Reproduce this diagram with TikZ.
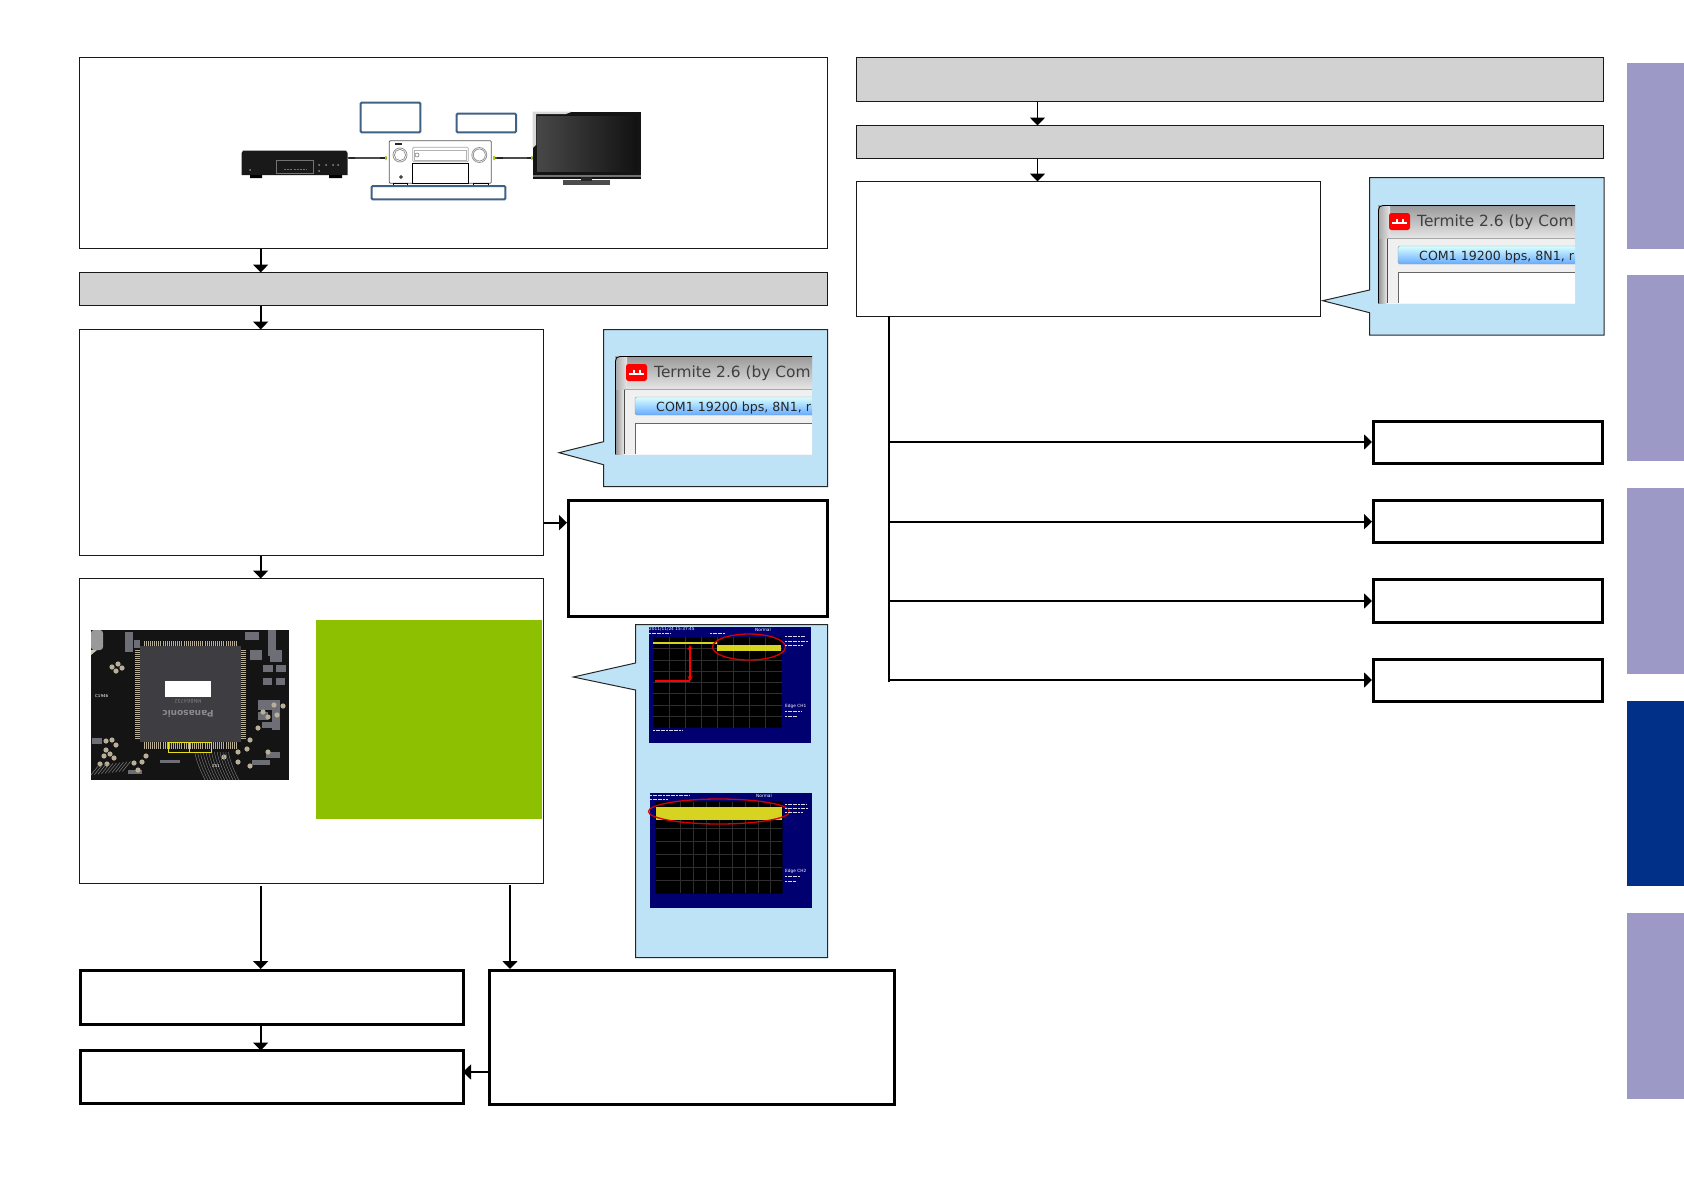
\documentclass[tikz,border=0pt]{standalone}
\usepackage{fontspec}
\setmainfont{DejaVu Sans}
\usetikzlibrary{arrows.meta,calc}
\definecolor{panel}{HTML}{BFE3F6}
\definecolor{grayfill}{HTML}{D2D2D2}
\definecolor{tablav}{HTML}{9D99C6}
\definecolor{tabblue}{HTML}{003087}
\definecolor{boxblue}{HTML}{3F6187}
\definecolor{leaf}{HTML}{8CC000}
\definecolor{navy}{HTML}{000070}
\definecolor{wave}{HTML}{D6D420}
\definecolor{padtan}{HTML}{B9AE98}
\definecolor{chipgray}{HTML}{3D3D42}
\definecolor{gridgray}{HTML}{2E2E2E}
\definecolor{silk}{HTML}{6E6E76}
\tikzset{
  thinbox/.style={draw=black!90,line width=1pt,fill=white},
  thickbox/.style={draw=black,line width=3pt,fill=white},
  graybox/.style={draw=black!90,line width=1pt,fill=grayfill},
  flowarrow/.style={draw=black,line width=1.7pt,-{Triangle[width=15pt,length=8pt]}},
  branch/.style={draw=black,line width=2pt},
  labelbox/.style={draw=boxblue,line width=2pt,rounded corners=1pt},
  callout/.style={draw=black!85,line width=1pt,fill=panel,line join=miter},
  tab/.style={fill=tablav},
  tabactive/.style={fill=tabblue},
  boxnode/.style={rectangle,inner sep=0pt,outer sep=0pt},
  scopegrid/.style={draw=gridgray,line width=.4pt}
}
% \bx{name}{style}{x1}{y1}{x2}{y2}
\newcommand{\bx}[6]{%
  \pgfmathsetmacro{\bw}{#5-#3}\pgfmathsetmacro{\bh}{#6-#4}%
  \pgfmathsetmacro{\cx}{(#3+#5)/2}\pgfmathsetmacro{\cy}{(#4+#6)/2}%
  \node[boxnode,#2,minimum width=\bw pt,minimum height=\bh pt] (#1) at (\cx,\cy) {};}
% Termite window, origin at top-left of the image (615,356), size 197x98
\newcommand{\termite}{%
  \begin{scope}
    \clip (0,0) rectangle (197,98);
    \shade[top color=white!60!gray,bottom color=white!92!gray] (0,0) rectangle (197,98);
    \shade[left color=black!45,right color=black!8] (0,0) rectangle (9,98);
    \shade[top color=black!40,bottom color=black!10] (0,0) rectangle (197,33);
    \shade[left color=black!35,right color=black!10] (0,0) rectangle (12,33);
    \fill[black!6] (9,33) rectangle (197,98);
    \draw[black!70,line width=.8pt] (9,33) -- (9,98);
    \draw[black!35,line width=.8pt] (9,33) -- (197,33);
    \draw[black,line width=.8pt] (.5,98) -- (.5,5) .. controls (.5,2) and (2,.5) .. (5,.5) -- (197,.5);
    \fill[white] (20,67) rectangle (197,98);
    \draw[black!60,line width=.9pt] (20,98) -- (20,67) -- (197,67);
    \shade[top color=cyan!15!white,bottom color=cyan!45!blue!60,draw=black!40,rounded corners=1.5pt] (20,41) rectangle (205,59);
    \fill[red,rounded corners=2.5pt] (11,8) rectangle (32,25);
    \draw[white,line width=1.2pt] (14,18) -- (29,18) (19,14) -- (19,18) (25,14) -- (25,18);
    \node[anchor=base west,inner sep=0pt,text=black!75,font=\fontsize{15.4}{15}\selectfont] (ttitle) at (39,21) {Termite 2.6 (by Com};
    \node[anchor=base west,inner sep=0pt,text=black!85,font=\fontsize{12.6}{13}\selectfont] (tcom) at (41,55) {COM1 19200 bps, 8N1, r};
  \end{scope}}
\begin{document}
\begin{tikzpicture}[x=1pt,y=-1pt]
\useasboundingbox (0,0) rectangle (1684,1191);
\fill[white] (0,0) rectangle (1684,1191);

% right tabs
\fill[tab] (1627,62.5) rectangle (1684,249);
\fill[tab] (1627,275) rectangle (1684,461);
\fill[tab] (1627,488) rectangle (1684,674);
\fill[tabactive] (1627,701) rectangle (1684,886);
\fill[tab] (1627,913) rectangle (1684,1099);

% left column boxes
\bx{setup}{thinbox}{79}{57}{827.5}{248.5}
\bx{gray1}{graybox}{79}{272.5}{827.5}{305.5}
\bx{step2}{thinbox}{79}{329.5}{543.5}{555.5}
\bx{step3}{thinbox}{79}{578.5}{543.5}{883.5}
\bx{nogood}{thickbox}{568}{500.5}{827}{616.5}
\bx{res1}{thickbox}{80.5}{970.5}{463}{1024.5}
\bx{res2}{thickbox}{80.5}{1050.5}{463}{1103.5}
\bx{res3}{thickbox}{489.5}{970.5}{894}{1104.5}

% right column boxes
\bx{gray2}{graybox}{856.5}{57.5}{1603.5}{101.5}
\bx{gray3}{graybox}{856.5}{125.5}{1603.5}{158.5}
\bx{step4}{thinbox}{856.5}{181.5}{1320.5}{316}
\bx{out1}{thickbox}{1373.5}{421.5}{1602.5}{463.5}
\bx{out2}{thickbox}{1373.5}{500.5}{1602.5}{542.5}
\bx{out3}{thickbox}{1373.5}{579.5}{1602.5}{622}
\bx{out4}{thickbox}{1373.5}{659.5}{1602.5}{701.5}

% connector guides
\coordinate (cA) at (260.7,0);
\coordinate (cC) at (1037.5,0);
\coordinate (cD) at (889,0);
\coordinate (r0) at (0,522.7);
\coordinate (r1) at (0,1072);
\coordinate (b1) at (0,442);
\coordinate (b2) at (0,521.7);
\coordinate (b3) at (0,601);
\coordinate (b4) at (0,680);
\coordinate (trunkEnd) at (889,682);
\coordinate (gapA) at (260.7,886);
\coordinate (gapB) at (510,885);

\draw[flowarrow] (setup.south -| cA) -- (gray1.north -| cA);
\draw[flowarrow] (gray1.south -| cA) -- (step2.north -| cA);
\draw[flowarrow] (step2.south -| cA) -- (step3.north -| cA);
\draw[flowarrow] (step2.east |- r0) -- ([xshift=-1pt]nogood.west |- r0);
\draw[flowarrow] ([yshift=0pt]gapA) -- ([yshift=1.5pt]res1.north -| gapA);
\draw[flowarrow] (gapB) -- ([yshift=1.5pt]res3.north -| gapB);
\draw[flowarrow] (res1.south -| cA) -- (res2.north -| cA);
\draw[flowarrow] (res3.west |- r1) -- (res2.east |- r1);
\draw[flowarrow] (gray2.south -| cC) -- (gray3.north -| cC);
\draw[flowarrow] (gray3.south -| cC) -- (step4.north -| cC);
\draw[branch] (step4.south -| cD) -- (trunkEnd);
\draw[flowarrow] (cD |- b1) -- ([xshift=-1.5pt]out1.west |- b1);
\draw[flowarrow] (cD |- b2) -- ([xshift=-1.5pt]out2.west |- b2);
\draw[flowarrow] (cD |- b3) -- ([xshift=-1.5pt]out3.west |- b3);
\draw[flowarrow] (cD |- b4) -- ([xshift=-1.5pt]out4.west |- b4);

% callouts
\draw[callout] (603.5,329.5) -- (827.5,329.5) -- (827.5,486.5) -- (603.5,486.5) -- (603.5,464.7) -- (559,452.7) -- (603.5,441.7) -- cycle;
\begin{scope}[shift={(615,356)}]\termite\end{scope}
\draw[callout] (1369.5,177.5) -- (1604,177.5) -- (1604,335) -- (1369.5,335) -- (1369.5,312.7) -- (1322.7,300.7) -- (1369.5,290) -- cycle;
\begin{scope}[shift={(1378,205)}]\termite\end{scope}
\draw[callout] (635.5,624.5) -- (827.5,624.5) -- (827.5,957.5) -- (635.5,957.5) -- (635.5,690) -- (573.3,677) -- (635.5,663) -- cycle;

% scope 1
\fill[navy] (648.5,627) rectangle (811,743);
\fill[black] (653,637) rectangle (781.5,727.5);
\draw[black!60!navy,line width=.6pt] (653,637) rectangle (781.5,727.5);
\foreach \gx in {669,685,701,717,733,749,765}
  \draw[scopegrid] (\gx,637) -- (\gx,727.5);
\foreach \gy in {648,660,671,682,693,705,716}
  \draw[scopegrid] (653,\gy) -- (781.5,\gy);
\fill[wave] (653,642.3) rectangle (717,644.3);
\fill[wave] (717,644.5) rectangle (781,651);
\draw[red!85!black,line width=1.3pt] (749,647) ellipse [x radius=36.5,y radius=13];
\draw[red,line width=1.5pt,{Stealth[length=5pt,width=5pt]}-{Stealth[length=5pt,width=5pt]}] (690,645) -- (690,681);
\draw[red,line width=2pt] (655,681) -- (690,681);
\node[anchor=west,inner sep=0pt,text=white,font=\fontsize{4.3}{4.3}\selectfont] (s1a) at (649,629.5) {2011/11/24 15:37:45};
\node[anchor=west,inner sep=0pt,text=white,font=\fontsize{4.3}{4.3}\selectfont] (s1b) at (755,629.5) {Normal};
\node[anchor=west,inner sep=0pt,text=white,font=\fontsize{4.3}{4.3}\selectfont] (s1c) at (785,706.5) {Edge CH1};
\foreach \ya/\xa/\xb in {636/785/805, 641/785/808, 645/785/803, 711/785/802, 716/785/797, 730/653/683, 633/649/670, 633/710/725}
  \draw[white!85!navy,line width=1pt,dash pattern=on 2pt off .6pt] (\xa,\ya) -- (\xb,\ya);

% scope 2
\fill[navy] (650,792.7) rectangle (812,908);
\fill[black] (655.7,801.7) rectangle (782,893.3);
\draw[black!60!navy,line width=.6pt] (655.7,801.7) rectangle (782,893.3);
\foreach \gx in {680,693,706,719,732,745,758,770}
  \draw[scopegrid] (\gx,801.7) -- (\gx,893.3);
\foreach \gy in {815,828,841,854,867,880}
  \draw[scopegrid] (655.7,\gy) -- (782,\gy);
\fill[wave] (655.7,806.5) rectangle (782,819.5);
\draw[red!85!black,line width=1.3pt] (719,811.5) ellipse [x radius=70.5,y radius=12.5];
\node[anchor=west,inner sep=0pt,text=white,font=\fontsize{4.3}{4.3}\selectfont] (s2b) at (756,795.5) {Normal};
\node[anchor=west,inner sep=0pt,text=white,font=\fontsize{4.3}{4.3}\selectfont] (s2c) at (785,871.5) {Edge CH2};
\foreach \ya/\xa/\xb in {795.5/650/690, 799.5/650/668, 804/785/806, 808/785/808, 812/785/803, 876/785/800, 881/785/796}
  \draw[white!85!navy,line width=1pt,dash pattern=on 2pt off .6pt] (\xa,\ya) -- (\xb,\ya);

% board photograph
\fill[black!92] (91,630) rectangle (289,779.5);
\begin{scope}
  \clip (91,630) rectangle (289,779.5);
  \fill[black!40,rounded corners=3pt] (91,630) rectangle (103,650);
  \fill[padtan!70] (91,650) -- (97,650) -- (91,655) -- cycle;
  \foreach \tx/\ty/\tl/\th in {125/632/8/20, 134/640/6/8, 245/632/14/8, 250/650/12/10, 268/630/8/26, 270/650/12/12, 263/665/10/7, 276/665/10/7, 263/678/9/7, 276/678/9/7, 258/700/16/10, 258/712/10/8, 272/700/8/30, 262/722/14/6, 92/738/10/6, 128/770/14/4, 160/760/20/3, 266/752/14/6, 252/760/18/5}
    \fill[silk] (\tx,\ty) rectangle +(\tl,\th);
  \foreach \px/\py in {112/667, 118/664, 116/671, 122/668, 106/741, 112/740, 116/745, 106/750, 110/754, 114/758, 104/756, 134/763, 142/762, 138/770, 146/756, 224/757, 238/752, 247/749, 238/762, 250/766, 258/728, 263/712, 268/717, 277/715, 274/705, 283/706, 250/740, 268/752, 100/764, 107/764}
    \fill[padtan] (\px,\py) circle [radius=2.6];
  \foreach \i in {0,...,9}
    \draw[black!55,line width=.6pt] (91+\i*3.5,775-\i*0.4) -- +(8,-10);
  \foreach \i in {0,...,12}
    \draw[black!55,line width=.5pt] (195+\i*2.8,752) .. controls +(0,10) and +(4,16) .. +(14,30);
  \node[inner sep=0pt,text=white!80,font=\fontsize{4}{4}\selectfont,anchor=west] (pcb1) at (95,696) {C1946};
  \node[inner sep=0pt,text=white!80,font=\fontsize{4}{4}\selectfont,anchor=west] (pcb2) at (212,766) {Z51};
\end{scope}
\fill[chipgray] (140,646) rectangle (240.7,741.7);
\foreach \i in {0,...,44} {
  \draw[padtan,line width=.7pt] (144+\i*2.1,641) -- +(0,4.5);
  \draw[padtan,line width=.7pt] (144+\i*2.1,742) -- +(0,7);
  \draw[padtan,line width=.7pt] (135,650+\i*2) -- +(4.5,0);
  \draw[padtan,line width=.7pt] (241,650+\i*2) -- +(4.5,0);
}
\fill[white] (165,681) rectangle (211,697);
\node[rotate=180,inner sep=0pt,text=black!45,font=\bfseries\fontsize{9}{9}\selectfont] (brand) at (188,714) {Panasonic};
\node[rotate=180,inner sep=0pt,text=black!50,font=\fontsize{5}{5}\selectfont] (part) at (188,701) {MN864732};
\draw[yellow!90!black,line width=1pt] (168.3,742.3) rectangle (189.3,752.3) (189.3,742.3) rectangle (211,752.3);

% green panel
\fill[leaf] (316,620) rectangle (542,819);

% setup illustration: player
\fill[black!90] (243,150.7) -- (346,150.7) -- (347.5,153) -- (347.5,175) -- (241.7,175) -- (241.7,153) -- cycle;
\fill[black] (250,175) rectangle (262,178) (329,175) rectangle (342,178);
\draw[black!55,line width=.5pt] (276.7,160.7) rectangle (313.3,173.3);
\draw[black!55,line width=.8pt,dash pattern=on 2pt off 1.2pt] (284,169) -- (307,169);
\fill[black!45] (250,170) circle [radius=1] (319,165) circle [radius=1] (319,171) circle [radius=1] (326,165) circle [radius=1] (333,165) circle [radius=1] (338,165) circle [radius=1];
% cables
\coordinate (plugA) at (348,158);
\coordinate (plugB) at (387,158);
\coordinate (plugC) at (494,158);
\coordinate (plugD) at (533,158);
\draw[black!70,line width=1.4pt] (plugA) -- (plugB) (plugC) -- (plugD);
\draw[black!85,line width=2.8pt] (349,158) -- (355,158) (380,158) -- (385,158) (497,158) -- (503,158) (527,158) -- (532,158);
\fill[leaf!70!yellow] (385,156) rectangle (386.5,160) (493,156) rectangle (495,160) (531,156) rectangle (532.5,160);
% receiver
\draw[black!65,line width=.8pt,fill=white,rounded corners=1pt] (389.3,140.7) rectangle (491.3,183.3);
\draw[black!45,line width=.7pt] (400,155) circle [radius=7] (400,155) circle [radius=5.6];
\draw[black!45,line width=.7pt] (479.3,155) circle [radius=7.5] (479.3,155) circle [radius=6];
\draw[black!35,line width=.7pt,rounded corners=1pt] (412.7,147.3) rectangle (468.3,161.7);
\draw[black!30,line width=.4pt] (414.5,150) rectangle (466,160);
\draw[black!60,line width=.5pt] (417,155) circle [radius=2];
\fill[black!85] (395,142.6) rectangle (402,145);
\draw[black,line width=.8pt] (401,177) circle [radius=1.4];
\draw[black,line width=1pt,fill=white] (412.7,163.3) rectangle (468.3,183.3);
\draw[black,line width=.7pt,fill=white] (393.3,183.3) rectangle (407.3,186);
\draw[black,line width=.7pt,fill=white] (473.3,183.3) rectangle (488.7,186);
% television
\fill[black!92] (532.7,111.7) rectangle (640.7,179.3);
\fill[black!15] (532.7,111.7) -- (572,111.7) -- (566,114) -- (536,114) -- (536,145) -- (532.7,148) -- cycle;
\shade[left color=black!72,right color=black!93] (537,116) rectangle (637,171);
\fill[black!55] (532.7,175) rectangle (640.7,177);
\fill[black!70] (563,180) rectangle (610,185);
\fill[black!85] (581,177) rectangle (592,181);
% illustration labels
\bx{labA}{labelbox}{360.7}{102.7}{420.3}{132.3}
\bx{labB}{labelbox}{456.7}{113.7}{516}{132.3}
\bx{labC}{labelbox}{371.7}{186}{505.3}{199.3}
\end{tikzpicture}
\end{document}
